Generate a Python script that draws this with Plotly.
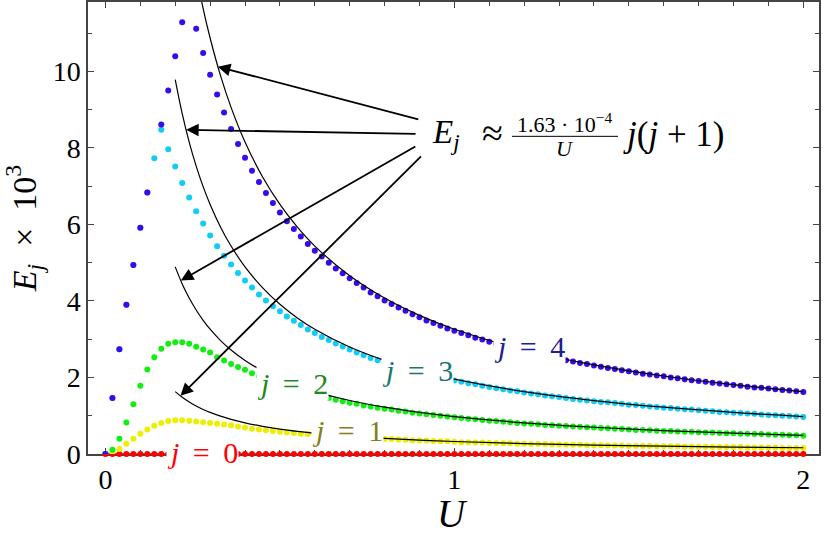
import plotly.graph_objects as go

# ---------------- data ----------------
U = [0.00, 0.02, 0.04, 0.06, 0.08, 0.10, 0.12, 0.14, 0.16, 0.18,
     0.20, 0.22, 0.24, 0.26, 0.28, 0.30, 0.32, 0.34, 0.36, 0.38,
     0.40, 0.42, 0.44, 0.46, 0.48, 0.50, 0.52, 0.54, 0.56, 0.58,
     0.60, 0.62, 0.64, 0.66, 0.68, 0.70, 0.72, 0.74, 0.76, 0.78,
     0.80, 0.82, 0.84, 0.86, 0.88, 0.90, 0.92, 0.94, 0.96, 0.98,
     1.00, 1.02, 1.04, 1.06, 1.08, 1.10, 1.12, 1.14, 1.16, 1.18,
     1.20, 1.22, 1.24, 1.26, 1.28, 1.30, 1.32, 1.34, 1.36, 1.38,
     1.40, 1.42, 1.44, 1.46, 1.48, 1.50, 1.52, 1.54, 1.56, 1.58,
     1.60, 1.62, 1.64, 1.66, 1.68, 1.70, 1.72, 1.74, 1.76, 1.78,
     1.80, 1.82, 1.84, 1.86, 1.88, 1.90, 1.92, 1.94, 1.96, 1.98,
     2.00]

E0 = [0.0] * 101

E1 = [0.00, 0.04, 0.13, 0.27, 0.40, 0.53, 0.64, 0.74, 0.81, 0.86,
      0.88, 0.88, 0.87, 0.85, 0.83, 0.81, 0.79, 0.77, 0.75, 0.72,
      0.69, 0.66, 0.64, 0.62, 0.60, 0.58, 0.56, 0.55, 0.53, 0.52,
      0.50, 0.49, 0.48, 0.46, 0.45, 0.44, 0.43, 0.42, 0.41, 0.40,
      0.39, 0.39, 0.38, 0.37, 0.36, 0.35, 0.35, 0.34, 0.33, 0.33,
      0.32, 0.31, 0.31, 0.30, 0.30, 0.29, 0.29, 0.28, 0.28, 0.27,
      0.27, 0.26, 0.26, 0.26, 0.25, 0.25, 0.24, 0.24, 0.24, 0.23,
      0.23, 0.23, 0.22, 0.22, 0.22, 0.21, 0.21, 0.21, 0.21, 0.20,
      0.20, 0.20, 0.20, 0.19, 0.19, 0.19, 0.19, 0.18, 0.18, 0.18,
      0.18, 0.18, 0.17, 0.17, 0.17, 0.17, 0.17, 0.16, 0.16, 0.16,
      0.16]

E2 = [0.00, 0.11, 0.40, 0.82, 1.30, 1.78, 2.21, 2.53, 2.75, 2.88,
      2.92, 2.92, 2.88, 2.80, 2.73, 2.65, 2.53, 2.44, 2.35, 2.27,
      2.20, 2.11, 2.03, 1.96, 1.89, 1.82, 1.76, 1.70, 1.64, 1.59,
      1.54, 1.49, 1.46, 1.42, 1.38, 1.34, 1.31, 1.27, 1.24, 1.21,
      1.18, 1.16, 1.13, 1.11, 1.08, 1.06, 1.04, 1.02, 1.00, 0.98,
      0.96, 0.94, 0.92, 0.91, 0.89, 0.87, 0.86, 0.84, 0.83, 0.81,
      0.80, 0.79, 0.78, 0.76, 0.75, 0.74, 0.73, 0.72, 0.71, 0.70,
      0.69, 0.68, 0.67, 0.66, 0.65, 0.64, 0.63, 0.63, 0.62, 0.61,
      0.60, 0.60, 0.59, 0.58, 0.58, 0.57, 0.56, 0.56, 0.55, 0.54,
      0.54, 0.53, 0.53, 0.52, 0.52, 0.51, 0.50, 0.50, 0.49, 0.49,
      0.48]

E3 = [0.00, 1.46, 2.74, 3.90, 4.94, 5.91, 6.83, 7.73, 8.47, 7.96,
      7.51, 7.08, 6.70, 6.34, 6.02, 5.71, 5.43, 5.18, 4.95, 4.73,
      4.53, 4.35, 4.17, 4.01, 3.86, 3.73, 3.59, 3.48, 3.37, 3.25,
      3.16, 3.06, 2.98, 2.89, 2.81, 2.73, 2.65, 2.58, 2.51, 2.45,
      2.39, 2.33, 2.28, 2.23, 2.18, 2.13, 2.09, 2.04, 2.00, 1.96,
      1.92, 1.89, 1.85, 1.82, 1.78, 1.75, 1.72, 1.69, 1.66, 1.64,
      1.61, 1.58, 1.56, 1.53, 1.51, 1.49, 1.46, 1.44, 1.42, 1.40,
      1.38, 1.36, 1.35, 1.33, 1.31, 1.29, 1.28, 1.26, 1.24, 1.23,
      1.21, 1.20, 1.18, 1.17, 1.16, 1.14, 1.13, 1.12, 1.10, 1.09,
      1.08, 1.07, 1.06, 1.05, 1.03, 1.02, 1.01, 1.00, 0.99, 0.98,
      0.97]

# the j=4 point at U=0.14 is hidden under the j=3 point in the reference
E4 = [0.00, 1.46, 2.74, 3.90, 4.94, 5.91, 6.83, None, 8.61, 9.50,
      10.39, 11.28, 12.00, 11.11, 10.48, 9.91, 9.39, 8.92, 8.49, 8.10,
      7.74, 7.40, 7.11, 6.82, 6.56, 6.31, 6.08, 5.88, 5.68, 5.49,
      5.31, 5.16, 5.00, 4.85, 4.72, 4.59, 4.47, 4.35, 4.22, 4.12,
      4.01, 3.92, 3.83, 3.74, 3.65, 3.57, 3.49, 3.42, 3.35, 3.28,
      3.22, 3.16, 3.10, 3.04, 2.99, 2.93, 2.88, 2.83, 2.78, 2.74,
      2.69, 2.65, 2.61, 2.57, 2.53, 2.49, 2.45, 2.42, 2.38, 2.35,
      2.31, 2.28, 2.25, 2.22, 2.19, 2.16, 2.13, 2.10, 2.08, 2.05,
      2.03, 2.00, 1.98, 1.95, 1.93, 1.91, 1.89, 1.86, 1.84, 1.82,
      1.80, 1.78, 1.76, 1.74, 1.73, 1.71, 1.69, 1.67, 1.66, 1.64,
      1.62]

# approximation curves E_j ~ 1.63e-4/U * j(j+1)  (x 10^3)
U_fit = [0.20, 0.22, 0.24, 0.26, 0.28, 0.30, 0.33, 0.36, 0.40, 0.45, 0.50,
         0.55, 0.60, 0.70, 0.80, 0.90, 1.00, 1.20, 1.40, 1.60, 1.80, 2.00]
F1 = [1.630, 1.482, 1.358, 1.254, 1.164, 1.087, 0.988, 0.906, 0.815, 0.724, 0.652,
      0.593, 0.543, 0.466, 0.408, 0.362, 0.326, 0.272, 0.233, 0.204, 0.181, 0.163]
F2 = [4.890, 4.445, 4.075, 3.762, 3.493, 3.260, 2.964, 2.717, 2.445, 2.173, 1.956,
      1.778, 1.630, 1.397, 1.223, 1.087, 0.978, 0.815, 0.699, 0.611, 0.543, 0.489]
F3 = [9.780, 8.891, 8.150, 7.523, 6.986, 6.520, 5.927, 5.433, 4.890, 4.347, 3.912,
      3.556, 3.260, 2.794, 2.445, 2.173, 1.956, 1.630, 1.397, 1.223, 1.087, 0.978]
F4 = [16.30, 14.82, 13.58, 12.54, 11.64, 10.87, 9.879, 9.056, 8.150, 7.244, 6.520,
      5.927, 5.433, 4.657, 4.075, 3.622, 3.260, 2.717, 2.329, 2.038, 1.811, 1.630]

j_values = ["0", "1", "2", "3", "4"]
dot_colors = ["#ff0000", "#eeee00", "#11ee11", "#11ccf5", "#3a0aee"]
label_colors = ["#ff0000", "#80801a", "#1a8a1a", "#1a7575", "#202090"]

# ---------------- figure ----------------
SERIF = "Liberation Serif, Times New Roman, serif"
fig = go.Figure()

fig.add_trace(go.Scatter(x=U, y=E0, mode="lines+markers", cliponaxis=False,
                         line=dict(color=dot_colors[0], width=1.5),
                         marker=dict(color=dot_colors[0], size=6), showlegend=False))
for ys, c in zip([E1, E2, E3, E4], dot_colors[1:]):
    fig.add_trace(go.Scatter(x=U, y=ys, mode="markers",
                             marker=dict(color=c, size=6), showlegend=False))

for fs in [F1, F2, F3, F4]:
    fig.add_trace(go.Scatter(x=U_fit, y=fs, mode="lines", line_shape="spline",
                             line=dict(color="black", width=1.2), showlegend=False))

ann = []
TS = "\u2009"
# j labels (white background hides dots/lines underneath)
label_pos = [(0.279, 0.03), (0.695, 0.61), (0.537, 1.84), (0.895, 2.18), (1.216, 2.81)]
for jv, col, (lx, ly) in zip(j_values, label_colors, label_pos):
    ann.append(dict(x=lx, y=ly, xref="x", yref="y", showarrow=False,
                    text="<i>j</i>" + TS + " = " + TS + jv,
                    font=dict(family=SERIF, size=30, color=col),
                    bgcolor="white", borderpad=0))

# formula pieces
ann.append(dict(x=0.930, y=8.36, xref="x", yref="y", xanchor="left", showarrow=False,
                text="<i>E<sub>j</sub></i>", font=dict(family=SERIF, size=33, color="black")))
ann.append(dict(x=1.110, y=8.40, xref="x", yref="y", showarrow=False,
                text="≈", font=dict(family=SERIF, size=38, color="black")))
ann.append(dict(x=1.317, y=8.64, xref="x", yref="y", showarrow=False,
                text="1.63 · 10<sup>−4</sup>", font=dict(family=SERIF, size=22, color="black")))
ann.append(dict(x=1.317, y=7.99, xref="x", yref="y", showarrow=False,
                text="<i>U</i>", font=dict(family=SERIF, size=22, color="black")))
ann.append(dict(x=1.477, y=8.36, xref="x", yref="y", xanchor="left", showarrow=False,
                text="<i>j</i>(<i>j</i> + 1)",
                font=dict(family=SERIF, size=35, color="black")))

# x-axis title placed as text below the tick labels
ann.append(dict(x=0.498, y=-0.131, xref="paper", yref="paper", showarrow=False,
                yanchor="middle", text="<i>U</i>",
                font=dict(family=SERIF, size=39, color="black")))

# arrows: head on the curves, tail near the formula (pixel offsets)
heads = [(0.322, 10.12, 202, 53), (0.231, 8.47, 231, 4), (0.216, 4.53, 236, -135), (0.215, 1.52, 242, -241)]
for hx, hy, ax, ay in heads:
    ann.append(dict(x=hx, y=hy, xref="x", yref="y", ax=ax, ay=ay, text="",
                    showarrow=True, arrowhead=2, arrowsize=1.4, arrowwidth=1.8,
                    arrowcolor="black", standoff=0))

fig.update_layout(
    width=830, height=536,
    margin=dict(l=88, r=11, t=2, b=82),
    paper_bgcolor="white", plot_bgcolor="white",
    font=dict(family=SERIF, size=28, color="black"),
    annotations=ann,
    shapes=[dict(type="line", xref="x", yref="y", x0=1.165, x1=1.469, y0=8.30, y1=8.30,
                 line=dict(color="black", width=1))],
    xaxis=dict(range=[-0.05, 2.045], tickvals=[0, 1, 2], ticktext=["0", "1", "2"],
               ticks="inside", ticklen=6, tickcolor="#444", mirror="ticks",
               showline=True, linecolor="#444", linewidth=1.5, showgrid=False,
               zeroline=False, layer="below traces", automargin=False,
               ticklabelstandoff=0,
               minor=dict(dtick=0.1, ticks="inside", ticklen=4, tickcolor="#444"),
               tickfont=dict(size=28)),
    yaxis=dict(range=[0, 11.81], tickvals=[0, 2, 4, 6, 8, 10],
               ticks="inside", ticklen=6, tickcolor="#444", mirror="ticks",
               showline=True, linecolor="#444", linewidth=1.5, showgrid=False,
               zeroline=False, ticklabelstandoff=0, automargin=False,
               minor=dict(dtick=1, ticks="inside", ticklen=4, tickcolor="#444"),
               title=dict(text="<i>E<sub>j</sub></i>\u2002×\u200210<sup>3</sup>",
                          font=dict(size=34), standoff=6),
               tickfont=dict(size=28)),
)

fig.write_html("out.html", config={"displayModeBar": False},
               post_script="document.body.style.margin='0';")
